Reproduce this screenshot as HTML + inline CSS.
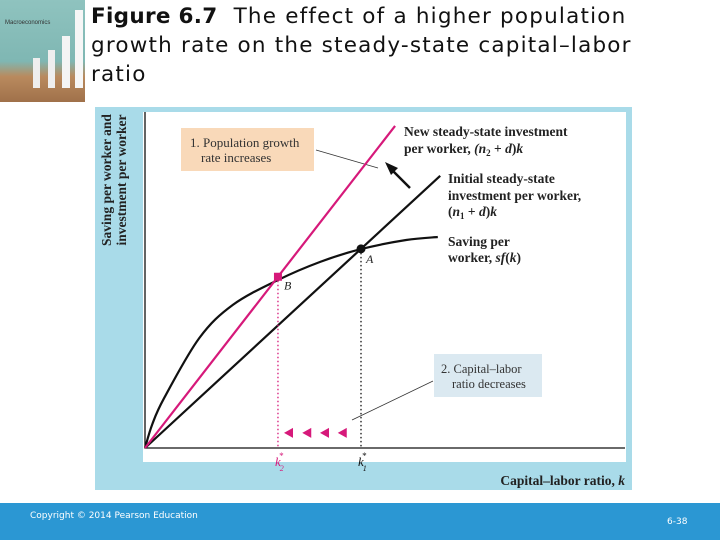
<!DOCTYPE html>
<html><head><meta charset="utf-8"><style>
body{margin:0;width:720px;height:540px;background:#fff;position:relative;overflow:hidden;font-family:"DejaVu Sans","Liberation Sans",sans-serif}
.t{position:absolute;left:91px;top:2px;font-size:21.5px;line-height:29px;color:#111;width:565px;letter-spacing:1.2px}
.footer{position:absolute;left:0;top:503px;width:720px;height:37px;background:#2b97d3}
</style></head><body>
<div style="position:absolute;left:0;top:0;width:85px;height:102px;background:linear-gradient(180deg,#8fc3bf 0%,#7fb7b3 60%,#b98a5e 75%,#a0714a 100%)">
<div style="position:absolute;left:5px;top:20px;font-size:6px;color:#333;font-family:'Liberation Sans',sans-serif">Macroeconomics</div>
<div style="position:absolute;left:33px;top:58px;width:7px;height:30px;background:#eee"></div>
<div style="position:absolute;left:48px;top:50px;width:7px;height:38px;background:#eee"></div>
<div style="position:absolute;left:62px;top:36px;width:8px;height:52px;background:#f4f4f4"></div>
<div style="position:absolute;left:75px;top:10px;width:8px;height:78px;background:#f6f6f6"></div>
</div>
<div class="t"><b style="letter-spacing:0.3px">Figure 6.7</b>&nbsp; The effect of a higher population growth rate on the steady-state capital–labor ratio</div>
<svg width="720" height="540" style="position:absolute;left:0;top:0" id="chart" font-family="'Liberation Serif',serif">
<rect x="95" y="107" width="537" height="383" fill="#a9dbe9"/>
<rect x="143" y="112" width="483" height="350" fill="#fff"/>
<rect x="181" y="128" width="133" height="43" fill="#f9d9b9"/>
<text x="190" y="147" font-size="13" fill="#333">1. Population growth</text>
<text x="201" y="162" font-size="13" fill="#333">rate increases</text>
<line x1="316" y1="150" x2="378" y2="168" stroke="#333" stroke-width="0.8"/>
<rect x="434" y="354" width="108" height="43" fill="#dbe9f1"/>
<text x="441" y="373" font-size="12.5" fill="#333">2. Capital–labor</text>
<text x="452" y="388" font-size="12.5" fill="#333">ratio decreases</text>
<line x1="433" y1="381" x2="352" y2="420" stroke="#333" stroke-width="0.8"/>
<g id="marks"></g>
<line x1="410" y1="188" x2="391" y2="169" stroke="#111" stroke-width="2.5"/>
<polygon points="385,162 398,168 391,175" fill="#111"/>
<g font-weight="bold" font-size="13.5" fill="#222">
<text x="404" y="136">New steady-state investment</text>
<text x="404" y="153">per worker, <tspan font-style="italic">(n</tspan><tspan font-size="9" dy="3">2</tspan><tspan dy="-3"> + </tspan><tspan font-style="italic">d</tspan>)<tspan font-style="italic">k</tspan></text>
<text x="448" y="183">Initial steady-state</text>
<text x="448" y="200">investment per worker,</text>
<text x="448" y="216">(<tspan font-style="italic">n</tspan><tspan font-size="9" dy="3">1</tspan><tspan dy="-3"> + </tspan><tspan font-style="italic">d</tspan>)<tspan font-style="italic">k</tspan></text>
<text x="448" y="246">Saving per</text>
<text x="448" y="262">worker, <tspan font-style="italic">sf</tspan>(<tspan font-style="italic">k</tspan>)</text>
<text x="625" y="485" text-anchor="end">Capital–labor ratio, <tspan font-style="italic">k</tspan></text>
<text transform="translate(111,180) rotate(-90)" text-anchor="middle">Saving per worker and</text>
<text transform="translate(126,180) rotate(-90)" text-anchor="middle">investment per worker</text>
</g>
</svg>
<div class="footer">
<div style="position:absolute;left:30px;top:8px;font-size:9px;color:#fff">Copyright © 2014 Pearson Education</div>
<div style="position:absolute;left:667px;top:14px;font-size:9px;color:#fff">6-38</div>
</div>
<script>
const sfK=[0,0.15,0.4,1.13,1.83,2.77,3.65,4.5,5.44,6.1];
const sfY=[0,0.7,1.49,3.27,4.26,5.0,5.54,5.92,6.19,6.28];
const slopes=[1.317,1.84];
const lineEnds=[6.15,5.21];
const steadyK=[4.5,2.77];
const steadyLabels=["1","2"];
const arrowK=[3.0,3.38,3.75,4.12];
const arrowY=0.45;
const X=k=>145+k*48, Y=v=>448-v*33.6;
const ns="http://www.w3.org/2000/svg";
const g=document.getElementById('marks');
function mk(t,a){const e=document.createElementNS(ns,t);for(const k in a)e.setAttribute(k,a[k]);g.appendChild(e);return e;}
const colors=["#111","#d6197a"];
let ax=mk('path',{d:`M${X(0)} ${Y(10)}V${Y(0)}H625`,stroke:'#111','stroke-width':1.3,fill:'none'});


let P=sfK.map((k,i)=>[X(k),Y(sfY[i])]);
let d=`M${P[0][0]} ${P[0][1]}`;
for(let i=0;i<P.length-1;i++){const p0=P[i-1]||P[i],p1=P[i],p2=P[i+1],p3=P[i+2]||p2;
d+=`C${p1[0]+(p2[0]-p0[0])/6} ${p1[1]+(p2[1]-p0[1])/6},${p2[0]-(p3[0]-p1[0])/6} ${p2[1]-(p3[1]-p1[1])/6},${p2[0]} ${p2[1]}`;}
let c=mk('path',{d,stroke:'#111','stroke-width':2.2,fill:'none'});


slopes.forEach((s,i)=>{
 let l=mk('line',{x1:X(0),y1:Y(0),x2:X(lineEnds[i]),y2:Y(s*lineEnds[i]),stroke:colors[i],'stroke-width':2.2});
 
 
 const k=steadyK[i], y=s*k;
 let v=mk('line',{x1:X(k),y1:Y(y),x2:X(k),y2:Y(0),stroke:colors[i],'stroke-width':1.3,'stroke-dasharray':'1.5,2.5'});
 
 
 let p=i?mk('rect',{x:X(k)-4,y:Y(y)-4,width:8,height:8,fill:colors[i]}):mk('circle',{cx:X(k),cy:Y(y),r:4.5,fill:colors[i]});
 
 
 let t=mk('text',{x:X(k)+(i?6:5),y:Y(y)+(i?13:14),'font-size':12,'font-style':'italic',fill:'#222'});
 t.textContent=i?'B':'A';
 
 
 let kl=mk('text',{x:X(k)-3,y:466,'font-size':13,'font-style':'italic',fill:colors[i]});
 kl.innerHTML=`k<tspan font-size="8" dy="5" dx="-1">${steadyLabels[i]}</tspan><tspan font-size="9" dy="-12" dx="-5">*</tspan>`;
 
 
});
arrowK.forEach(k=>{
 let a=mk('polygon',{points:`${X(k)-5},${Y(arrowY)} ${X(k)+4},${Y(arrowY)-5} ${X(k)+4},${Y(arrowY)+5}`,fill:'#d6197a'});
 
 
});
</script>
</body></html>
